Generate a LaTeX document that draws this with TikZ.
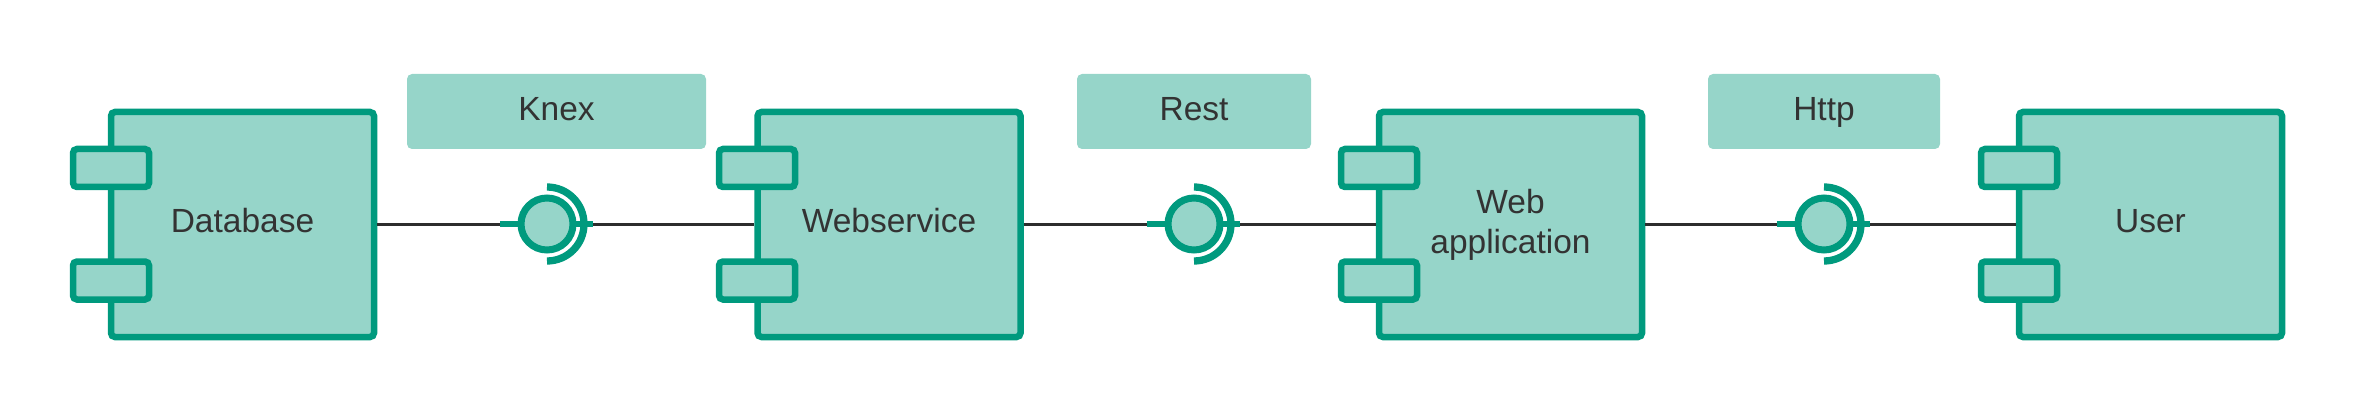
\documentclass[tikz,border=0pt]{standalone}
\usepackage{fontspec}
\setmainfont{Liberation Sans}
\usetikzlibrary{calc}
\definecolor{teal1}{RGB}{0,154,126}
\definecolor{light1}{RGB}{150,213,201}
\definecolor{ink}{RGB}{51,51,51}
\definecolor{wirec}{RGB}{45,45,45}
\begin{document}
\begin{tikzpicture}[x=1pt,y=1pt,
  comp/.style={draw=teal1, fill=light1, line width=6.5pt, rounded corners=4pt,
    minimum width=263pt, minimum height=225pt, inner sep=0pt, text=ink,
    font=\fontsize{33.5}{40}\selectfont, align=center},
  oneline/.style={text height=24pt, text depth=9pt},
  port/.style={draw=teal1, fill=light1, line width=6.5pt, rounded corners=4pt,
    minimum width=76pt, minimum height=38pt, inner sep=0pt},
  tag/.style={fill=light1, rounded corners=5pt, minimum height=75pt, inner sep=0pt,
    text=ink, font=\fontsize{33.5}{40}\selectfont, text height=24pt, text depth=5pt},
  wire/.style={draw=wirec, line width=3pt},
  ball/.style={circle, draw=teal1, fill=light1, line width=7pt, minimum size=52pt, inner sep=0pt},
  stub/.style={draw=teal1, line width=6.7pt},
  cup/.style={draw=teal1, line width=7.3pt}
]
\useasboundingbox (0,0) rectangle (2359,413);

% components
\node[comp, oneline] (db) at (242.5,188.5) {Database};
\node[port] (db-p1) at (111,245) {};
\node[port] (db-p2) at (111,132.5) {};

\node[comp, oneline] (ws) at (889,188.5) {Webservice};
\node[port] (ws-p1) at (757,245) {};
\node[port] (ws-p2) at (757,132.5) {};

\node[comp] (wa) at (1510.5,188.5) {Web\\application};
\node[port] (wa-p1) at (1379,245) {};
\node[port] (wa-p2) at (1379,132.5) {};

\node[comp, oneline] (us) at (2150.5,188.5) {User};
\node[port] (us-p1) at (2019,245) {};
\node[port] (us-p2) at (2019,132.5) {};

% connectors
\draw[wire] (db.east) -- (ws.west);
\draw[wire] (ws.east) -- (wa.west);
\draw[wire] (wa.east) -- (us.west);

% interfaces
\foreach \n/\x in {i1/547, i2/1194, i3/1824} {
  \coordinate (\n c) at (\x,189);
  \draw[stub] ($(\n c)+(-47,0)$) -- ($(\n c)+(-25,0)$);
  \draw[stub] ($(\n c)+(25,0)$) -- ($(\n c)+(46,0)$);
  \node[ball] (\n) at (\n c) {};
  \draw[cup] ($(\n c)+(0,37)$) arc[start angle=90, end angle=-90, radius=37pt];
}

% labels
\node[tag, minimum width=299pt] (knex) at (556.5,301.5) {Knex};
\node[tag, minimum width=234pt] (rest) at (1194,301.5) {Rest};
\node[tag, minimum width=232pt] (http) at (1824,301.5) {Http};
\end{tikzpicture}
\end{document}
